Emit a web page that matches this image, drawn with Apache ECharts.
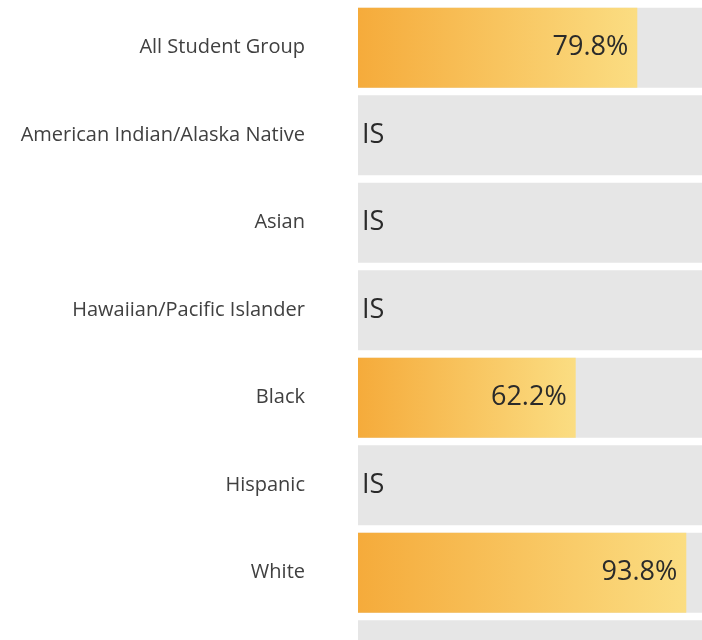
<!DOCTYPE html>
<html>
<head>
<meta charset="utf-8">
<script src="https://cdn.jsdelivr.net/npm/echarts@6/dist/echarts.min.js"></script>
<style>
    html, body { margin: 0; padding: 0; background: #fff; overflow: hidden; }
    #chart { width: 708px; height: 704px; }
</style>
</head>
<body>
<div id="chart"></div>
<script>
// 学生群体 / 百分比，null 表示 IS
var categories = ['All Student Group', 'American Indian/Alaska Native', 'Asian', 'Hawaiian/Pacific Islander', 'Black', 'Hispanic', 'White', 'Two or More Races'];
var values = [79.8, null, null, null, 62.2, null, 93.8, null];
var missingText = 'IS';

;(function(){
    var chart = echarts.init(document.getElementById('chart'));

    var seriesData = values.map(function (v) {
        if (v === null) {
            return {
                value: 0,
                label: { position: 'insideLeft', distance: 4, formatter: missingText }
            };
        }
        return v;
    });

    var option = {
        animation: false,
        grid: {
            left: 358,
            right: 0,
            top: 4,
            bottom: 0
        },
        xAxis: {
            type: 'value',
            min: 0,
            max: 100,
            show: false
        },
        yAxis: {
            type: 'category',
            inverse: true,
            data: categories,
            axisLine: { show: false },
            axisTick: { show: false },
            axisLabel: {
                margin: 53,
                fontFamily: 'Open Sans',
                fontSize: 20,
                color: '#404040'
            }
        },
        series: [{
            type: 'bar',
            data: seriesData,
            barWidth: 80,
            showBackground: true,
            backgroundStyle: { color: '#e6e6e6' },
            itemStyle: {
                color: new echarts.graphic.LinearGradient(0, 0, 1, 0, [
                    { offset: 0, color: '#f5ab3b' },
                    { offset: 1, color: '#fbdd82' }
                ])
            },
            label: {
                show: true,
                position: 'insideRight',
                distance: 9,
                fontFamily: 'Open Sans',
                fontSize: 27,
                color: '#2a2a2a',
                formatter: function (p) { return p.value.toFixed(1) + '%'; }
            }
        }]
    };

    chart.setOption(option);
})()
</script>
</body>
</html>
